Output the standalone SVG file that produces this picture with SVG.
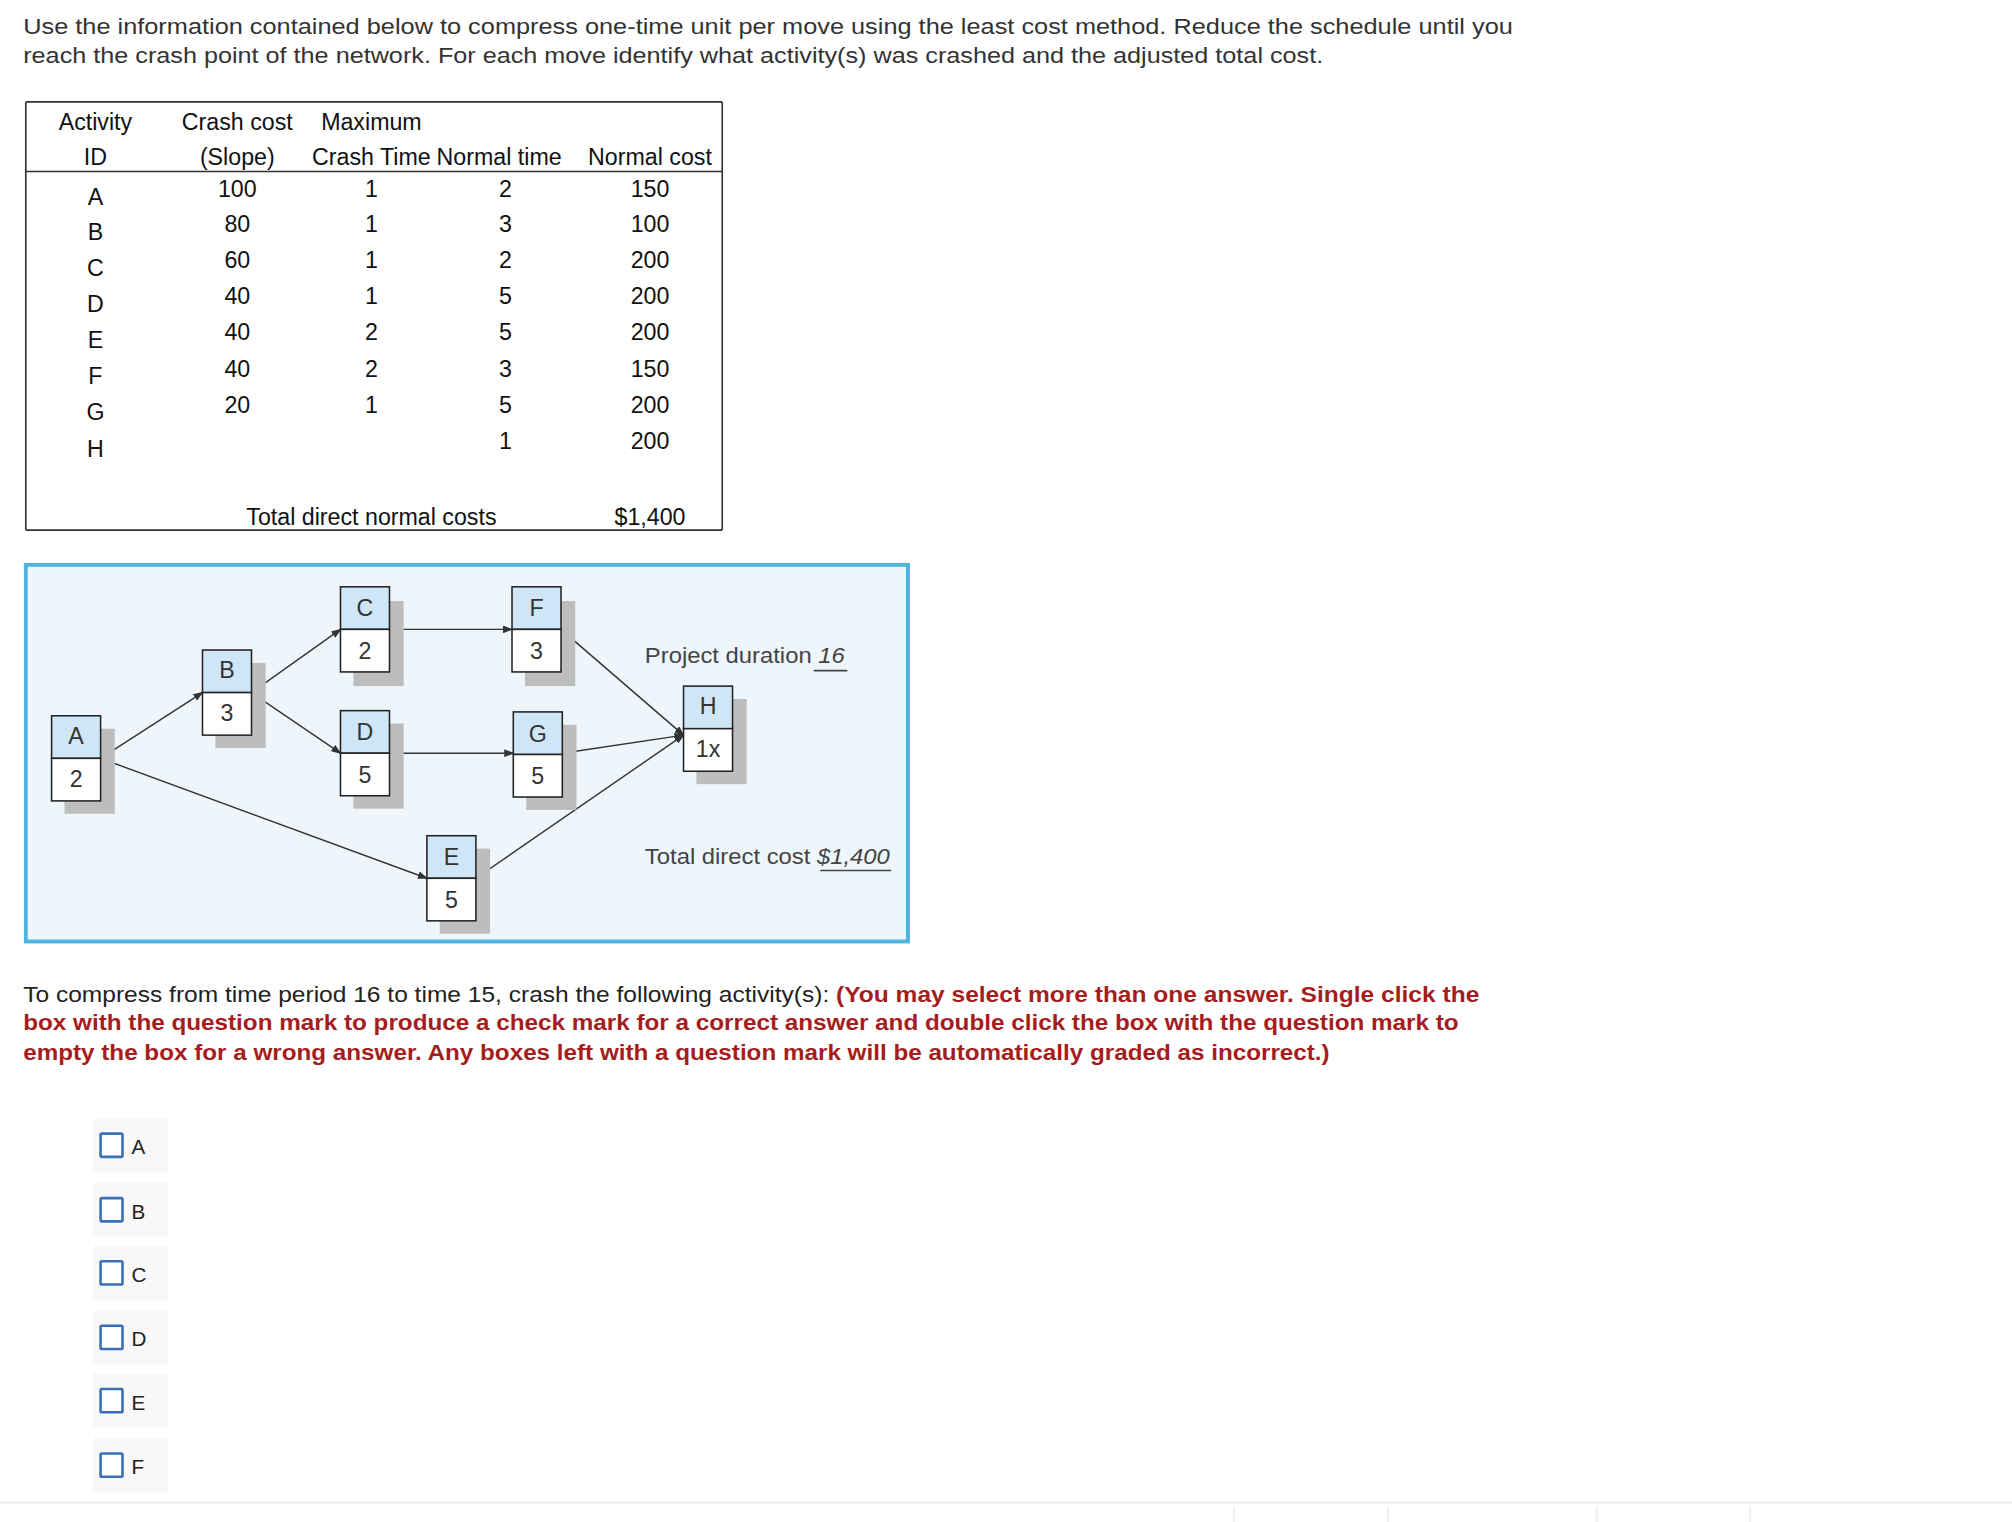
<svg xmlns="http://www.w3.org/2000/svg" width="2012" height="1522" viewBox="0 0 2012 1522">
<style>
text{font-family:"Liberation Sans",Arial,sans-serif}
.intro{font-size:17.5px;fill:#333}
.tb{font-size:18px;fill:#111;text-anchor:middle}
.tl{stroke:#333;stroke-width:1.3}
.sh{fill:#bdbdbd}
.top{fill:#cfe6f7;stroke:#222;stroke-width:1.2}
.bot{fill:#fff;stroke:#222;stroke-width:1.2}
.nl{font-size:18px;fill:#333;text-anchor:middle}
.edge{stroke:#333;stroke-width:1.1;fill:none;marker-end:url(#ah)}
.lbl{font-size:17px;fill:#444}
.q{font-size:17.5px;fill:#222}
.red{fill:#a51d1d;font-weight:bold}
.cbg{fill:#f8f8f8}
.cb{fill:#fff;stroke:#3b6fb6;stroke-width:2}
.opt{font-size:16px;fill:#222}
</style>
<defs>
<marker id="ah" markerWidth="8" markerHeight="6" refX="7" refY="3" orient="auto" markerUnits="userSpaceOnUse"><path d="M0,0 L8,3 L0,6 Z" fill="#333"/></marker>
</defs>
<rect width="2012" height="1522" fill="#fff"/>
<g transform="scale(1.2897)">
<text class="intro" x="18" y="26" textLength="1155" lengthAdjust="spacingAndGlyphs">Use the information contained below to compress one-time unit per move using the least cost method. Reduce the schedule until you</text>
<text class="intro" x="18" y="49" textLength="1008" lengthAdjust="spacingAndGlyphs">reach the crash point of the network. For each move identify what activity(s) was crashed and the adjusted total cost.</text>
<g id="table">
<line class="tl" x1="20" y1="79" x2="560" y2="79"/>
<line class="tl" x1="20" y1="133" x2="560" y2="133"/>
<line class="tl" x1="20" y1="411" x2="560" y2="411"/>
<line class="tl" x1="20" y1="79" x2="20" y2="411"/>
<line class="tl" x1="560" y1="79" x2="560" y2="411"/>
<text class="tb" x="74" y="101">Activity</text><text class="tb" x="184" y="101">Crash cost</text><text class="tb" x="288" y="101">Maximum</text>
<text class="tb" x="74" y="128">ID</text><text class="tb" x="184" y="128">(Slope)</text><text class="tb" x="288" y="128">Crash Time</text><text class="tb" x="387" y="128">Normal time</text><text class="tb" x="504" y="128">Normal cost</text>
<text class="tb" x="74" y="159">A</text><text class="tb" x="184" y="153">100</text><text class="tb" x="288" y="153">1</text><text class="tb" x="392" y="153">2</text><text class="tb" x="504" y="153">150</text>
<text class="tb" x="74" y="186">B</text><text class="tb" x="184" y="180">80</text><text class="tb" x="288" y="180">1</text><text class="tb" x="392" y="180">3</text><text class="tb" x="504" y="180">100</text>
<text class="tb" x="74" y="214">C</text><text class="tb" x="184" y="208">60</text><text class="tb" x="288" y="208">1</text><text class="tb" x="392" y="208">2</text><text class="tb" x="504" y="208">200</text>
<text class="tb" x="74" y="242">D</text><text class="tb" x="184" y="236">40</text><text class="tb" x="288" y="236">1</text><text class="tb" x="392" y="236">5</text><text class="tb" x="504" y="236">200</text>
<text class="tb" x="74" y="270">E</text><text class="tb" x="184" y="264">40</text><text class="tb" x="288" y="264">2</text><text class="tb" x="392" y="264">5</text><text class="tb" x="504" y="264">200</text>
<text class="tb" x="74" y="298">F</text><text class="tb" x="184" y="292">40</text><text class="tb" x="288" y="292">2</text><text class="tb" x="392" y="292">3</text><text class="tb" x="504" y="292">150</text>
<text class="tb" x="74" y="326">G</text><text class="tb" x="184" y="320">20</text><text class="tb" x="288" y="320">1</text><text class="tb" x="392" y="320">5</text><text class="tb" x="504" y="320">200</text>
<text class="tb" x="74" y="354">H</text><text class="tb" x="392" y="348">1</text><text class="tb" x="504" y="348">200</text>
<text class="tb" x="288" y="407">Total direct normal costs</text><text class="tb" x="504" y="407">$1,400</text>
</g>
<rect x="20" y="438" width="684" height="292" fill="#eef6fc" stroke="#4fb3e0" stroke-width="3"/>
<g id="connectors">
<line class="edge" x1="78" y1="588" x2="157" y2="537"/>
<line class="edge" x1="195" y1="537" x2="264" y2="488"/>
<line class="edge" x1="195" y1="537" x2="264" y2="584"/>
<line class="edge" x1="302" y1="488" x2="397" y2="488"/>
<line class="edge" x1="302" y1="584" x2="398" y2="584"/>
<line class="edge" x1="435" y1="488" x2="530" y2="570"/>
<line class="edge" x1="436" y1="584" x2="530" y2="570"/>
<line class="edge" x1="78" y1="588" x2="331" y2="681"/>
<line class="edge" x1="369" y1="681" x2="530" y2="570"/>
</g>
<g id="A"><rect class="sh" x="50" y="565" width="39" height="66"/><rect class="top" x="40" y="555" width="38" height="33"/><rect class="bot" x="40" y="588" width="38" height="33"/><text class="nl" x="59" y="577">A</text><text class="nl" x="59" y="610">2</text></g>
<g id="B"><rect class="sh" x="167" y="514" width="39" height="66"/><rect class="top" x="157" y="504" width="38" height="33"/><rect class="bot" x="157" y="537" width="38" height="33"/><text class="nl" x="176" y="526">B</text><text class="nl" x="176" y="559">3</text></g>
<g id="C"><rect class="sh" x="274" y="466" width="39" height="66"/><rect class="top" x="264" y="455" width="38" height="33"/><rect class="bot" x="264" y="488" width="38" height="33"/><text class="nl" x="283" y="478">C</text><text class="nl" x="283" y="511">2</text></g>
<g id="D"><rect class="sh" x="274" y="561" width="39" height="66"/><rect class="top" x="264" y="551" width="38" height="33"/><rect class="bot" x="264" y="584" width="38" height="33"/><text class="nl" x="283" y="574">D</text><text class="nl" x="283" y="607">5</text></g>
<g id="F"><rect class="sh" x="407" y="466" width="39" height="66"/><rect class="top" x="397" y="455" width="38" height="33"/><rect class="bot" x="397" y="488" width="38" height="33"/><text class="nl" x="416" y="478">F</text><text class="nl" x="416" y="511">3</text></g>
<g id="G"><rect class="sh" x="408" y="562" width="39" height="66"/><rect class="top" x="398" y="552" width="38" height="33"/><rect class="bot" x="398" y="585" width="38" height="33"/><text class="nl" x="417" y="575">G</text><text class="nl" x="417" y="608">5</text></g>
<g id="H"><rect class="sh" x="540" y="542" width="39" height="66"/><rect class="top" x="530" y="532" width="38" height="33"/><rect class="bot" x="530" y="565" width="38" height="33"/><text class="nl" x="549" y="554">H</text><text class="nl" x="549" y="587">1x</text></g>
<g id="E"><rect class="sh" x="341" y="658" width="39" height="66"/><rect class="top" x="331" y="648" width="38" height="33"/><rect class="bot" x="331" y="681" width="38" height="33"/><text class="nl" x="350" y="671">E</text><text class="nl" x="350" y="704">5</text></g>
<text class="lbl" x="500" y="514" textLength="155" lengthAdjust="spacingAndGlyphs">Project duration <tspan font-style="italic">16</tspan></text>
<line x1="631" y1="520" x2="657" y2="520" stroke="#444" stroke-width="1.2"/>
<text class="lbl" x="500" y="670" textLength="190" lengthAdjust="spacingAndGlyphs">Total direct cost <tspan font-style="italic">$1,400</tspan></text>
<line x1="636" y1="675" x2="691" y2="675" stroke="#444" stroke-width="1.2"/>
<text class="q" x="18" y="777" textLength="1129" lengthAdjust="spacingAndGlyphs">To compress from time period 16 to time 15, crash the following activity(s): <tspan class="red">(You may select more than one answer. Single click the</tspan></text>
<text class="q red" x="18" y="799" textLength="1113" lengthAdjust="spacingAndGlyphs">box with the question mark to produce a check mark for a correct answer and double click the box with the question mark to</text>
<text class="q red" x="18" y="822" textLength="1013" lengthAdjust="spacingAndGlyphs">empty the box for a wrong answer. Any boxes left with a question mark will be automatically graded as incorrect.)</text>
<g id="options">
<rect class="cbg" x="72" y="867" width="58" height="42"/><rect class="cb" x="78" y="879" width="17" height="18" rx="1"/><text class="opt" x="102" y="895">A</text>
<rect class="cbg" x="72" y="917" width="58" height="42"/><rect class="cb" x="78" y="929" width="17" height="18" rx="1"/><text class="opt" x="102" y="945">B</text>
<rect class="cbg" x="72" y="966" width="58" height="42"/><rect class="cb" x="78" y="978" width="17" height="18" rx="1"/><text class="opt" x="102" y="994">C</text>
<rect class="cbg" x="72" y="1016" width="58" height="42"/><rect class="cb" x="78" y="1028" width="17" height="18" rx="1"/><text class="opt" x="102" y="1044">D</text>
<rect class="cbg" x="72" y="1065" width="58" height="42"/><rect class="cb" x="78" y="1077" width="17" height="18" rx="1"/><text class="opt" x="102" y="1093">E</text>
<rect class="cbg" x="72" y="1115" width="58" height="42"/><rect class="cb" x="78" y="1127" width="17" height="18" rx="1"/><text class="opt" x="102" y="1143">F</text>
</g>
<line x1="0" y1="1165" x2="1560" y2="1165" stroke="#eee" stroke-width="2"/>
<g stroke="#eee" stroke-width="1.5"><line x1="957" y1="1168" x2="957" y2="1185"/><line x1="1076" y1="1168" x2="1076" y2="1185"/><line x1="1238" y1="1168" x2="1238" y2="1185"/><line x1="1357" y1="1168" x2="1357" y2="1185"/></g>
</g>
</svg>
